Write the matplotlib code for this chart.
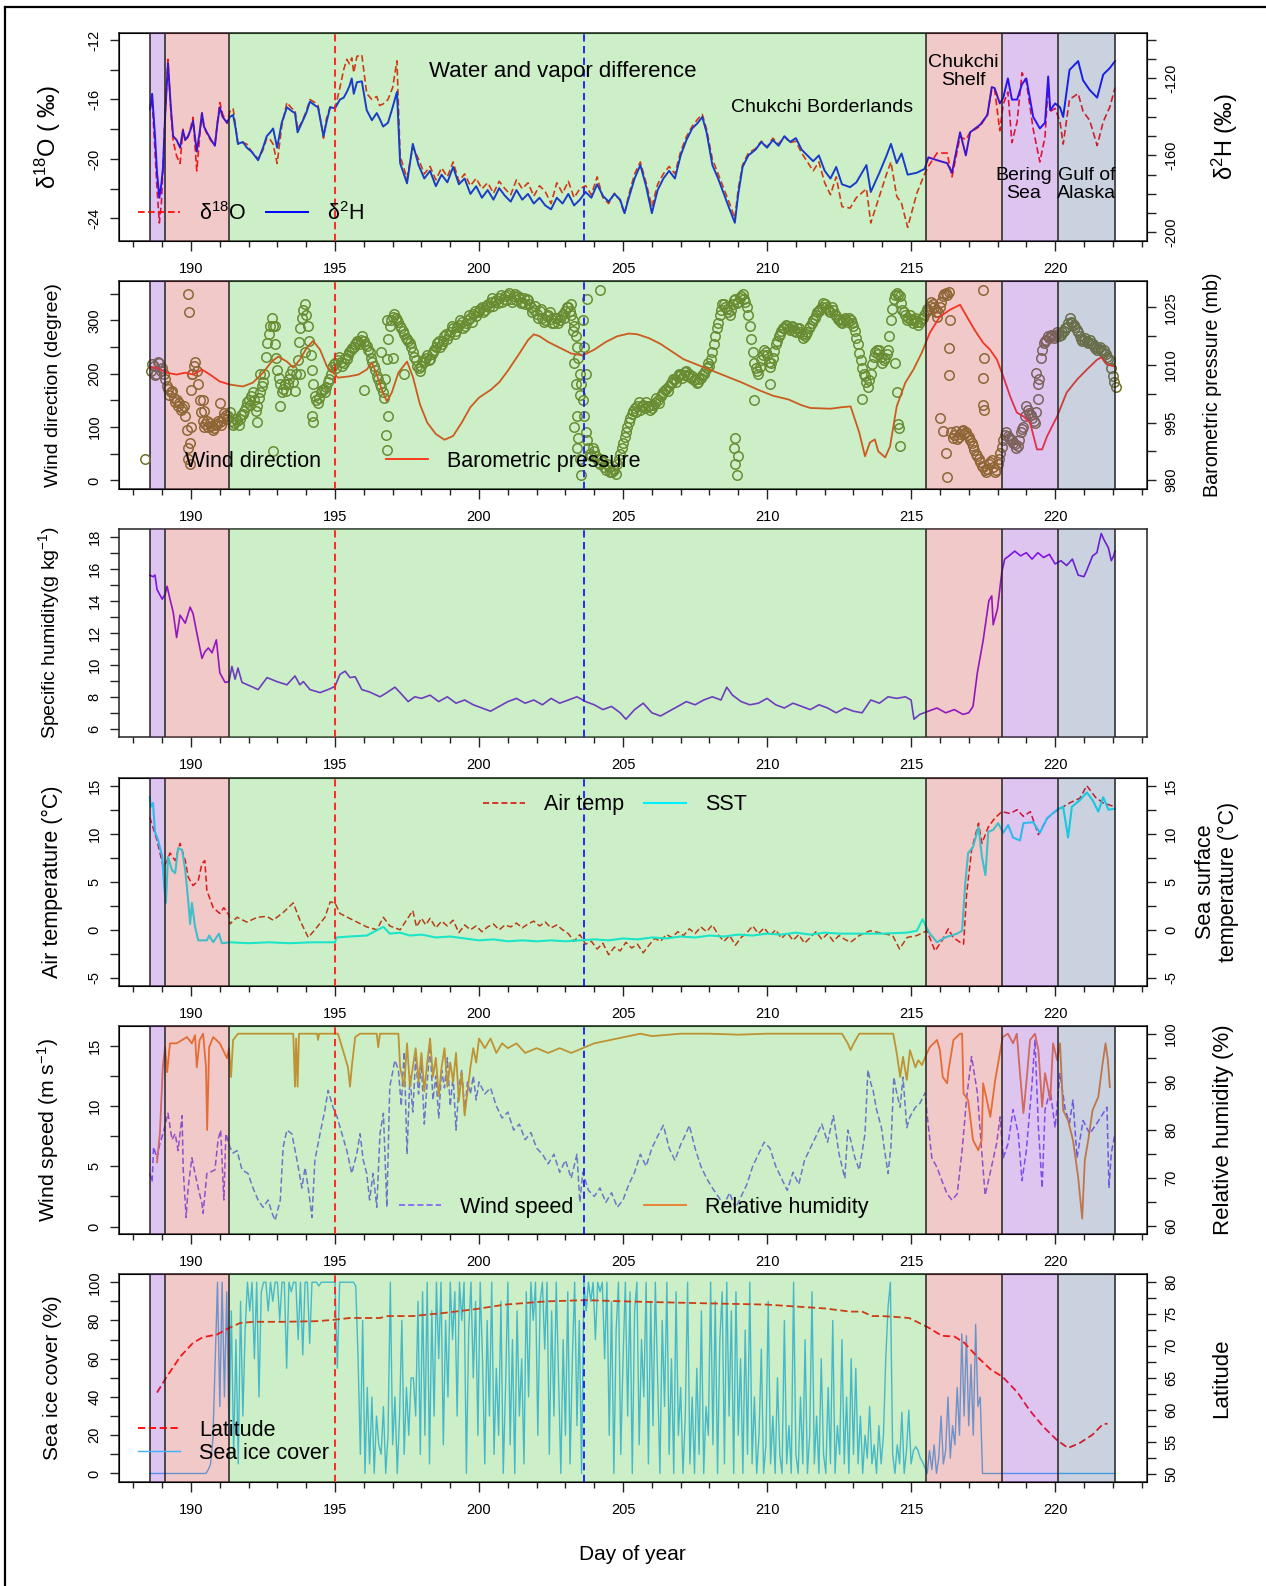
#!/usr/bin/env python3
"""
plot.py

Six stacked time-series panels along a ship track (day of year 188-222):
isotopes, wind direction / pressure, specific humidity, air / sea temperature,
wind speed / humidity and sea ice / latitude, with the regional shading drawn
over the data.
"""

import numpy as np
import matplotlib
matplotlib.use('Agg')
import matplotlib.pyplot as plt
from matplotlib.lines import Line2D

plt.rcParams['font.family'] = ['Liberation Sans', 'DejaVu Sans']
plt.rcParams['mathtext.fontset'] = 'custom'
plt.rcParams['mathtext.rm'] = 'Liberation Sans'
plt.rcParams['mathtext.it'] = 'Liberation Sans:italic'
plt.rcParams['axes.unicode_minus'] = False

# ---------------------------------------------------------------- regions
REGION_EDGES = [188.57, 189.09, 191.31, 215.52, 218.15, 220.11, 222.09]
REGION_COLORS = ['#9441cd', '#d44e4e', '#58cd48', '#d44e4e', '#9441cd', '#556c98']
RED_LINE_DAY = 195.0
BLUE_LINE_DAY = 203.66

X_LABELED = [190, 195, 200, 205, 210, 215, 220]
X_UNLABELED = list(range(188, 224))

# ---------------------------------------------------------------- panel 1: isotopes
T_ISO = [188.58, 188.65, 188.75, 188.82, 188.9, 188.97, 189.03, 189.1, 189.2, 189.3,
         189.38, 189.5, 189.62, 189.72, 189.8, 189.9, 190.0, 190.07, 190.2, 190.3,
         190.38, 190.45, 190.55, 190.7, 190.83, 190.92, 191.0, 191.1, 191.25, 191.35,
         191.46, 191.55, 191.63, 191.8, 191.94, 192.1, 192.33, 192.5, 192.63, 192.75,
         192.85, 192.99, 193.15, 193.33, 193.5, 193.61, 193.7, 193.85, 194.0, 194.13,
         194.3, 194.41, 194.6, 194.7, 194.83, 195.0, 195.17, 195.3, 195.41, 195.5,
         195.58, 195.65, 195.76, 195.93, 196.1, 196.28, 196.45, 196.55, 196.67, 196.84,
         197.0, 197.15, 197.26, 197.5, 197.7, 197.9, 198.1, 198.3, 198.5, 198.7,
         198.9, 199.1, 199.3, 199.5, 199.7, 199.9, 200.1, 200.3, 200.5, 200.7,
         200.9, 201.1, 201.3, 201.5, 201.7, 201.9, 202.1, 202.3, 202.5, 202.7,
         202.9, 203.1, 203.3, 203.5, 203.7, 203.9, 204.1, 204.3, 204.5, 204.7,
         204.9, 205.05, 205.2, 205.4, 205.6, 205.8, 206.0, 206.2, 206.4, 206.6,
         206.8, 207.0, 207.2, 207.4, 207.6, 207.75, 207.9, 208.1, 208.3, 208.5,
         208.7, 208.88, 209.0, 209.15, 209.35, 209.6, 209.8, 210.0, 210.2, 210.4,
         210.6, 210.8, 211.0, 211.2, 211.4, 211.6, 211.8, 212.0, 212.2, 212.4,
         212.6, 212.88, 213.1, 213.45, 213.6, 213.9, 214.15, 214.3, 214.5, 214.67,
         214.88, 215.2, 215.47, 215.6, 215.9, 216.25, 216.42, 216.7, 216.9, 217.05,
         217.4, 217.65, 217.8, 217.9, 218.08, 218.2, 218.36, 218.5, 218.68, 218.85,
         219.0, 219.24, 219.47, 219.65, 219.76, 219.83, 220.0, 220.17, 220.28, 220.5,
         220.8, 220.97, 221.2, 221.46, 221.67, 221.9, 222.08]
D18O = [-16.5, -16.0, -19.5, -22.0, -24.3, -23.0, -20.5, -17.0, -13.3, -16.8,
        -18.8, -19.8, -20.3, -18.0, -18.8, -18.5, -17.8, -17.2, -20.8, -18.5,
        -16.9, -17.8, -18.3, -18.8, -19.0, -17.5, -16.2, -17.0, -17.6, -16.8,
        -16.6, -17.8, -19.0, -18.9, -19.0, -19.5, -20.0, -19.4, -18.6, -18.7,
        -19.0, -20.3, -17.8, -16.2, -16.6, -16.7, -18.0, -17.5, -16.8, -16.0,
        -16.2, -16.4, -18.6, -17.3, -16.5, -16.6, -15.2, -14.0, -13.3, -13.6,
        -13.2, -14.2, -13.1, -13.0, -15.6, -16.0, -15.8, -16.4, -16.3, -16.0,
        -15.2, -13.4, -19.8, -21.3, -19.2, -20.0, -21.0, -20.5, -21.4, -20.6,
        -21.2, -20.2, -21.5, -21.0, -21.8, -21.3, -22.0, -21.6, -22.3, -21.5,
        -22.0, -22.4, -21.4, -22.0, -21.6, -22.5, -21.8, -22.2, -23.0, -21.6,
        -22.3, -21.5, -22.6, -22.0, -21.8, -22.4, -21.2, -22.6, -23.0, -22.3,
        -22.8, -23.7, -22.4, -21.0, -20.2, -21.6, -23.2, -21.7, -21.0, -20.5,
        -21.0, -19.5, -18.5, -17.8, -17.3, -17.0, -18.0, -20.0, -21.0, -22.0,
        -23.0, -24.0, -22.0, -20.4, -19.6, -19.3, -18.8, -19.2, -18.6, -19.0,
        -18.5, -18.9, -18.8, -19.6, -20.2, -20.8, -20.2, -21.6, -22.4, -21.2,
        -23.2, -23.3, -22.6, -22.0, -24.3, -22.5, -21.0, -20.2, -22.5, -23.0,
        -24.6, -22.3, -21.0, -20.5, -19.6, -19.6, -21.2, -18.5, -18.7, -18.2,
        -17.8, -17.0, -15.3, -15.3, -18.1, -16.3, -15.5, -18.9, -17.5, -14.2,
        -14.8, -18.0, -20.2, -18.5, -15.0, -16.8, -16.6, -17.5, -19.0, -16.0,
        -15.6, -16.8, -17.4, -19.1, -17.5, -16.5, -15.2]
D2H = [-136, -128, -150, -169, -182, -175, -166, -140, -112, -135,
       -150, -152, -156, -147, -152, -150, -146, -142, -158, -148,
       -138, -145, -148, -152, -155, -143, -135, -140, -143, -140,
       -139, -146, -154, -153, -156, -158, -162.5, -156, -150, -148,
       -146, -156, -143, -135, -137, -138, -148, -143, -138, -132,
       -134, -135, -150, -143, -135, -135.5, -131, -130, -127, -124,
       -120, -128, -122, -121.5, -136.5, -141.7, -138, -141, -145, -143,
       -135, -127, -164, -174.5, -154, -165, -172, -168, -176, -170,
       -174, -166, -175, -172, -180, -176, -182, -178, -183, -177,
       -181, -184, -178, -183, -180, -185, -182, -186, -188, -182,
       -185, -180, -186, -183, -179, -182, -175, -181, -184, -180,
       -183, -190, -182, -172, -165, -176, -190, -178, -172, -168,
       -172, -160, -152, -146, -143, -140, -148, -165, -172, -180,
       -188, -195, -180, -166, -160, -157, -153, -156, -152, -155,
       -150, -153, -151, -157, -160, -163, -160, -168, -172, -166,
       -175, -176.5, -174, -165, -179, -169, -160, -154, -164, -159,
       -170, -169, -167, -161, -162.5, -164, -169, -148, -160, -148,
       -144, -139, -124.5, -125, -133, -130, -120, -131, -131, -123,
       -120, -140, -146, -143, -119, -136.5, -133, -135, -140, -115.6,
       -111, -121, -126, -130, -118, -114.6, -111]

# ---------------------------------------------------------------- panel 2: wind direction, pressure
WD_START = 188.6
WD_STEP = 0.1
WIND_DIR = [205, 215, 200, 220, 210, 190, 172, 165, 155, 150,
            145, 135, 120, 40, 170, 215, 205, 150, 112, 105,
            100, 102, 98, 105, 110, 118, 122, 120, 112, 108,
            112, 115, 125, 138, 150, 158, 150, 140, 165, 185,
            232, 275, 305, 255, 208, 180, 172, 168, 190, 208,
            168, 225, 285, 320, 310, 262, 208, 158, 146, 165,
            172, 176, 190, 212, 220, 226, 222, 220, 228, 240,
            248, 256, 260, 264, 262, 252, 240, 222, 208, 190,
            176, 155, 228, 290, 307, 305, 298, 285, 275, 265,
            258, 240, 225, 210, 215, 222, 235, 228, 240, 250,
            262, 255, 270, 265, 278, 285, 280, 292, 298, 290,
            300, 305, 312, 308, 318, 325, 320, 330, 335, 328,
            338, 342, 335, 345, 348, 340, 345, 338, 342, 335,
            330, 338, 325, 320, 312, 318, 305, 300, 310, 302,
            296, 305, 300, 312, 318, 325, 310, 290, 250, 200,
            150, 90, 60, 45, 55, 40, 30, 35, 20, 25,
            15, 20, 30, 50, 70, 90, 110, 125, 135, 140,
            132, 142, 148, 140, 135, 145, 150, 158, 165, 172,
            178, 185, 190, 195, 200, 198, 205, 200, 195, 190,
            185, 192, 200, 210, 215, 240, 270, 295, 320, 330,
            322, 310, 330, 340, 335, 345, 340, 325, 290, 240,
            210, 200, 225, 245, 235, 212, 230, 255, 270, 280,
            285, 290, 282, 288, 278, 285, 275, 270, 278, 290,
            300, 310, 318, 325, 330, 322, 315, 320, 308, 300,
            295, 305, 298, 301, 290, 268, 239, 210, 195, 176,
            200, 232, 245, 245, 221, 230, 245, 300, 340, 352,
            345, 320, 310, 305, 301, 300, 298, 298, 305, 315,
            320, 335, 325, 307, 325, 345, 352, 354, 90, 85,
            77, 88, 95, 90, 82, 70, 58, 45, 34, 25,
            15, 30, 39, 15, 30, 52, 75, 90, 80, 75,
            68, 64, 90, 101, 139, 127, 118, 108, 152, 230,
            258, 264, 268, 273, 270, 275, 273, 280, 288, 305,
            295, 288, 278, 266, 264, 262, 264, 255, 249, 248,
            245, 244, 232, 226, 195, 175]
# second set of readings, half a step later (the band is many records thick)
WD2_START = 188.65
WIND_DIR_2 = [218, 198, 222, 205, 200, 178, 160, 168, 148, 140,
              132, 140, 95, 70, 200, 222, 180, 128, 100, 112,
              108, 95, 104, 112, 104, 126, 115, 128, 104, 116,
              104, 122, 130, 148, 142, 165, 130, 155, 178, 200,
              258, 290, 290, 230, 192, 165, 180, 180, 200, 185,
              200, 260, 305, 330, 290, 235, 180, 150, 155, 170,
              165, 185, 200, 218, 210, 232, 215, 230, 235, 245,
              250, 262, 255, 270, 255, 245, 230, 215, 195, 180,
              165, 190, 265, 300, 312, 300, 290, 280, 268, 262,
              250, 232, 215, 205, 225, 230, 225, 238, 245, 258,
              250, 262, 275, 272, 290, 275, 288, 300, 285, 295,
              310, 298, 318, 315, 322, 315, 328, 325, 342, 335,
              332, 348, 340, 338, 352, 335, 350, 345, 332, 342,
              340, 330, 315, 328, 305, 322, 298, 308, 315, 295,
              305, 295, 308, 305, 325, 318, 300, 270, 230, 180,
              120, 75, 50, 60, 45, 32, 40, 25, 30, 15,
              22, 12, 40, 60, 82, 100, 118, 130, 128, 148,
              140, 135, 140, 132, 142, 155, 145, 162, 170, 168,
              182, 190, 185, 200, 192, 204, 196, 192, 188, 182,
              190, 198, 205, 220, 228, 255, 285, 310, 330, 325,
              315, 320, 338, 332, 342, 350, 335, 310, 265, 220,
              205, 212, 235, 240, 222, 220, 242, 262, 275, 285,
              292, 285, 290, 280, 285, 278, 268, 275, 285, 295,
              305, 315, 322, 332, 325, 318, 325, 312, 302, 298,
              300, 300, 305, 295, 280, 255, 225, 200, 185, 188,
              218, 240, 238, 232, 226, 238, 270, 322, 348, 348,
              332, 315, 300, 310, 296, 305, 292, 302, 310, 322,
              328, 330, 315, 315, 335, 350, 348, 300, 80, 92,
              82, 92, 88, 85, 76, 64, 50, 40, 28, 20,
              22, 35, 25, 20, 40, 62, 85, 84, 78, 70,
              60, 75, 96, 120, 132, 122, 112, 128, 190, 245,
              262, 270, 272, 268, 278, 270, 278, 285, 295, 298,
              292, 282, 270, 262, 268, 258, 258, 252, 245, 250,
              240, 238, 228, 210, 185]
WD_OUT_T = [189.88, 189.9, 189.92, 189.95, 190.0, 190.05, 190.4, 190.45, 191.0, 192.3,
            192.4, 192.85, 192.9, 193.1, 193.8, 193.95, 194.2, 194.25, 196.0, 196.6,
            196.78, 196.8, 196.82, 196.85, 197.0, 197.4, 203.2, 203.25, 203.3, 203.3,
            203.35, 203.4, 203.4, 203.45, 203.5, 203.5, 203.55, 203.6, 203.65, 203.7,
            203.75, 204.2, 208.85, 208.88, 208.9, 208.95, 209.0, 209.55, 210.1, 213.3,
            214.45, 214.5, 214.55, 214.58, 214.62, 216.0, 216.1, 216.2, 216.25, 216.3,
            216.32, 217.48, 217.5, 217.5, 217.52, 217.52, 219.35, 219.4]
WD_OUT = [60, 350, 315, 30, 100, 200, 150, 130, 146, 110,
          200, 56, 290, 140, 200, 240, 120, 110, 170, 240,
          86, 58, 300, 120, 230, 200, 330, 280, 220, 100,
          180, 120, 60, 80, 40, 160, 10, 300, 250, 200,
          340, 357, 60, 80, 30, 10, 45, 150, 180, 152,
          221, 165, 105, 99, 64, 118, 92, 52, 6, 249,
          198, 142, 357, 193, 230, 133, 202, 180]

T_PRES = [188.57, 188.8, 189.16, 189.5, 189.8, 190.07, 190.38, 190.66, 191.0, 191.35,
          191.8, 192.15, 192.5, 192.8, 193.03, 193.33, 193.55, 193.78, 194.02, 194.24,
          194.48, 194.72, 194.93, 195.1, 195.46, 195.81, 196.1, 196.28, 196.45, 196.62,
          196.8, 196.97, 197.2, 197.5, 197.7, 197.95, 198.2, 198.5, 198.8, 199.1,
          199.4, 199.7, 200.0, 200.4, 200.7, 201.0, 201.4, 201.7, 201.9, 202.1,
          202.4, 202.8, 203.2, 203.6, 204.0, 204.4, 204.8, 205.2, 205.5, 205.9,
          206.3, 206.7, 207.1, 207.6, 208.1, 208.6, 209.1, 209.7, 210.2, 210.75,
          211.2, 211.5, 212.2, 212.6, 212.9, 213.2, 213.4, 213.57, 213.74, 213.86,
          214.1, 214.27, 214.5, 214.8, 215.08, 215.37, 215.65, 216.0, 216.35, 216.7,
          216.86, 217.2, 217.5, 217.74, 217.98, 218.2, 218.44, 218.67, 218.9, 219.13,
          219.37, 219.55, 219.72, 220.07, 220.4, 220.76, 221.1, 221.46, 221.6, 221.67,
          221.8, 222.08]
PRES = [1009.3, 1009.3, 1008, 1007.5, 1008, 1007.5, 1008.8, 1007.5, 1005.7, 1004.9,
        1004.4, 1005.4, 1008, 1010.9, 1012.2, 1010.9, 1009.3, 1011.4, 1014.5, 1016.3,
        1014, 1009.6, 1008, 1006.7, 1007, 1007.5, 1008.8, 1010.6, 1007.5, 1003.6,
        1000.5, 1002.8, 1008, 1010.9, 1007, 999.7, 995, 992, 990.5, 991.5,
        995, 999, 1001.5, 1003.5, 1005.5, 1008.5, 1013, 1016.5, 1018, 1017.5,
        1016, 1014.5, 1013, 1012.5, 1014, 1016, 1017.5, 1018.2, 1018, 1017,
        1015.5, 1013.5, 1011.5, 1010, 1008.5, 1007, 1005.5, 1003.5, 1002, 1001,
        999.5, 998.8, 998.6, 999, 999.2, 992.4, 986.2, 989.8, 990.6, 987.5,
        985.9, 988.8, 999.2, 1005.4, 1008.8, 1013.2, 1018.4, 1022.6, 1024.4, 1025.7,
        1023.6, 1019.2, 1015.8, 1014, 1011.4, 1007, 1001.8, 997.6, 996.6, 995,
        988, 988, 991.4, 996.6, 1002.8, 1006.2, 1008.8, 1011.4, 1012, 1011.4,
        1010.1, 1009.6]

# ---------------------------------------------------------------- panel 3: specific humidity
T_Q = [188.57, 188.68, 188.75, 188.82, 189.0, 189.1, 189.17, 189.27, 189.38, 189.5,
       189.62, 189.8, 189.97, 190.07, 190.2, 190.38, 190.48, 190.6, 190.73, 190.88,
       191.0, 191.18, 191.32, 191.42, 191.53, 191.63, 191.77, 192.15, 192.33, 192.64,
       192.98, 193.33, 193.61, 193.78, 193.9, 194.13, 194.48, 194.76, 195.0, 195.17,
       195.35, 195.52, 195.7, 195.93, 196.2, 196.56, 196.8, 197.08, 197.26, 197.54,
       197.77, 198.0, 198.3, 198.6, 198.9, 199.2, 199.5, 199.8, 200.1, 200.4,
       200.7, 201.0, 201.3, 201.6, 201.9, 202.2, 202.5, 202.8, 203.1, 203.4,
       203.7, 204.0, 204.3, 204.6, 204.9, 205.1, 205.4, 205.7, 206.0, 206.3,
       206.6, 206.9, 207.2, 207.5, 207.8, 208.1, 208.4, 208.6, 208.8, 209.1,
       209.4, 209.7, 210.0, 210.3, 210.6, 210.9, 211.2, 211.5, 211.8, 212.1,
       212.4, 212.7, 213.0, 213.3, 213.6, 213.9, 214.2, 214.5, 214.8, 215.0,
       215.1, 215.3, 215.6, 215.9, 216.2, 216.5, 216.8, 217.0, 217.15, 217.3,
       217.5, 217.7, 217.8, 217.85, 218.0, 218.15, 218.25, 218.4, 218.6, 218.8,
       219.0, 219.2, 219.4, 219.6, 219.8, 220.0, 220.2, 220.4, 220.6, 220.8,
       221.0, 221.1, 221.3, 221.45, 221.6, 221.7, 221.85, 221.95, 222.03, 222.08]
SPEC_HUM = [15.6, 15.5, 15.6, 14.7, 14.1, 14.4, 14.9, 14.1, 13.3, 11.7,
            13.1, 12.6, 13.6, 13.2, 12.0, 10.4, 10.8, 11.05, 10.75, 11.56,
            9.5, 8.9, 8.95, 9.9, 9.1, 9.8, 8.9, 8.6, 8.45, 9.2,
            8.95, 8.75, 9.3, 8.75, 8.95, 8.45, 8.26, 8.45, 8.65, 9.4,
            9.6, 9.2, 9.25, 8.45, 8.3, 8.0, 8.26, 8.6, 8.26, 7.7,
            8.0, 7.9, 8.1, 7.7, 8.0, 7.6, 7.8, 7.5, 7.3, 7.1,
            7.4, 7.7, 7.9, 7.6, 7.8, 7.5, 7.9, 7.6, 7.8, 8.0,
            7.7, 7.5, 7.2, 7.4, 7.0, 6.6, 7.2, 7.6, 7.0, 6.8,
            7.1, 7.4, 7.7, 7.5, 7.8, 8.0, 7.8, 8.6, 8.1, 7.7,
            7.5, 7.6, 7.9, 7.5, 7.3, 7.6, 7.4, 7.2, 7.5, 7.3,
            7.0, 7.3, 7.1, 7.0, 7.8, 7.6, 8.0, 7.9, 8.0, 7.8,
            6.6, 6.9, 7.1, 7.3, 7.0, 7.2, 6.9, 7.0, 7.4, 9.5,
            11.5, 14.0, 14.3, 12.5, 13.5, 15.8, 16.6, 16.8, 17.1, 16.8,
            17.0, 16.6, 17.0, 16.7, 16.9, 16.3, 16.5, 16.2, 16.6, 15.6,
            15.5, 15.9, 16.8, 17.0, 18.2, 17.8, 17.3, 16.5, 16.8, 17.1]

# ---------------------------------------------------------------- panel 4: air temperature, SST
T_AIR = [188.57, 188.82, 189.04, 189.17, 189.27, 189.45, 189.62, 189.8, 189.9, 190.07,
         190.25, 190.38, 190.48, 190.55, 190.77, 191.0, 191.14, 191.32, 191.35, 191.6,
         191.94, 192.3, 192.63, 192.85, 193.2, 193.55, 193.78, 194.07, 194.3, 194.65,
         194.83, 195.0, 195.17, 195.63, 196.1, 196.45, 196.68, 196.9, 197.26, 197.7,
         197.83, 198.0, 198.15, 198.3, 198.5, 198.7, 198.9, 199.1, 199.3, 199.5,
         199.7, 199.9, 200.1, 200.3, 200.5, 200.7, 200.9, 201.1, 201.3, 201.5,
         201.7, 201.9, 202.1, 202.3, 202.5, 202.7, 202.9, 203.1, 203.3, 203.5,
         203.7, 203.9, 204.1, 204.3, 204.5, 204.7, 204.9, 205.1, 205.3, 205.5,
         205.7, 205.9, 206.1, 206.3, 206.5, 206.7, 206.9, 207.1, 207.3, 207.5,
         207.7, 207.9, 208.1, 208.3, 208.5, 208.7, 208.9, 209.1, 209.3, 209.5,
         209.7, 209.9, 210.1, 210.3, 210.5, 210.7, 210.9, 211.1, 211.3, 211.5,
         211.7, 211.9, 212.1, 212.3, 212.5, 212.7, 212.9, 213.2, 213.57, 213.9,
         214.36, 214.6, 214.86, 215.2, 215.55, 215.83, 216.08, 216.29, 216.46, 216.7,
         216.82, 216.93, 217.1, 217.34, 217.46, 217.68, 217.9, 218.15, 218.44, 218.68,
         218.9, 219.14, 219.42, 219.72, 220.0, 220.28, 220.5, 220.86, 221.1, 221.4,
         221.67, 222.08]
AIR_TEMP = [11.7, 9.3, 6.5, 7.2, 8.0, 7.2, 9.0, 7.2, 5.5, 4.6,
            5.1, 6.9, 7.2, 4.1, 2.3, 1.7, 2.3, 1.5, 0.6, 1.3,
            0.8, 1.3, 1.4, 1.0, 1.8, 2.8, 1.0, -0.8, 0.0, 1.3,
            2.9, 2.8, 1.7, 1.0, 0.3, 0.0, 1.3, 0.4, 0.0, 2.0,
            0.3, 1.2, 0.5, 1.2, 0.2, 0.9, 0.4, 1.0, -0.3, 0.5,
            0.0, 0.4, -0.2, 0.3, 0.6, 0.0, 0.5, 0.3, 0.7, 0.2,
            0.6, 0.9, 0.4, 0.8, 0.2, 0.5, 0.0, -0.4, -1.2, -0.5,
            -1.5, -1.2, -2.0, -1.4, -2.6, -1.8, -2.2, -1.3, -1.9, -1.5,
            -2.4, -1.6, -0.9, -1.2, -0.5, -0.8, -0.2, -0.6, 0.1, -0.4,
            0.3, -0.2, 0.5, -0.5, -1.2, -0.6, -1.6, -0.8, -0.3, 0.4,
            -0.4, 0.2, -0.6, 0.0, -0.9, -0.3, -1.1, -0.5, -1.4, -0.8,
            -0.2, -1.0, -0.4, -1.2, -0.6, -1.0, -1.3, -0.6, -0.1, -0.3,
            -0.6, -2.0, -0.8, -0.6, -0.1, -2.2, -1.1, 0.1, -0.8, -1.3,
            -1.5, 3.8, 8.3, 11.1, 9.0, 10.7, 11.6, 12.3, 12.1, 12.5,
            11.8, 12.3, 9.9, 11.6, 12.3, 12.8, 13.2, 13.7, 15.0, 13.8,
            13.2, 12.8]

T_SST = [188.57, 188.6, 188.68, 188.75, 188.86, 189.0, 189.07, 189.13, 189.2, 189.34,
         189.45, 189.55, 189.69, 189.8, 189.9, 189.97, 190.03, 190.14, 190.25, 190.55,
         190.63, 190.77, 190.97, 191.07, 191.35, 192.0, 192.7, 193.4, 194.2, 195.0,
         195.05, 195.5, 196.1, 196.68, 196.9, 197.26, 197.6, 198.0, 198.5, 199.0,
         199.5, 200.0, 200.5, 201.0, 201.5, 202.0, 202.5, 203.0, 203.5, 204.0,
         204.5, 205.0, 205.5, 206.0, 206.5, 207.0, 207.5, 208.0, 208.5, 209.0,
         209.5, 210.0, 210.5, 211.0, 211.5, 212.0, 212.5, 212.9, 214.0, 214.85,
         215.2, 215.4, 215.52, 215.65, 215.9, 216.18, 216.6, 216.77, 216.88, 216.98,
         217.15, 217.34, 217.46, 217.58, 217.68, 217.85, 218.02, 218.2, 218.37, 218.54,
         218.78, 218.9, 219.24, 219.47, 219.72, 220.07, 220.28, 220.45, 220.58, 220.86,
         221.1, 221.3, 221.5, 221.67, 221.85, 222.08]
SST = [13.8, 12.8, 13.2, 10.2, 9.3, 7.6, 4.5, 2.8, 7.6, 6.2,
       5.9, 8.5, 8.3, 6.2, 3.1, 0.6, 2.8, 0.3, -1.1, -1.1,
       -0.6, -1.3, -0.4, -1.4, -1.3, -1.4, -1.3, -1.4, -1.3, -1.3,
       -0.8, -0.7, -0.6, 0.3, -0.4, -0.3, -0.6, -0.5, -0.8, -0.7,
       -0.9, -1.1, -1.0, -1.2, -1.1, -1.2, -1.1, -1.2, -1.1, -1.0,
       -1.1, -0.9, -1.0, -0.8, -0.9, -0.7, -0.8, -0.6, -0.7, -0.5,
       -0.6, -0.4, -0.5, -0.3, -0.5, -0.3, -0.4, -0.4, -0.4, -0.3,
       -0.1, 1.1, 0.3, -0.4, -1.3, -0.8, -0.4, -0.1, 4.8, 8.0,
       8.6, 10.7, 7.6, 5.7, 10.2, 10.4, 11.1, 10.1, 10.9, 9.6,
       9.3, 11.1, 11.2, 10.1, 11.6, 12.5, 12.8, 9.6, 12.8, 13.5,
       14.3, 13.5, 12.3, 13.8, 12.5, 12.6]

# ---------------------------------------------------------------- panel 5: wind speed, relative humidity
T_WS = [188.57, 188.65, 188.7, 188.82, 188.92, 189.04, 189.2, 189.34, 189.45, 189.55,
        189.69, 189.73, 189.83, 189.9, 190.03, 190.14, 190.25, 190.38, 190.42, 190.55,
        190.66, 190.83, 190.94, 191.03, 191.14, 191.21, 191.35, 191.46, 191.6, 191.77,
        191.98, 192.15, 192.33, 192.5, 192.68, 192.8, 192.92, 193.1, 193.2, 193.33,
        193.5, 193.68, 193.85, 193.96, 194.07, 194.2, 194.3, 194.48, 194.65, 194.76,
        194.93, 195.07, 195.24, 195.41, 195.58, 195.76, 195.87, 195.98, 196.1, 196.2,
        196.32, 196.45, 196.56, 196.68, 196.8, 196.9, 197.08, 197.2, 197.3, 197.4,
        197.5, 197.6, 197.7, 197.8, 197.9, 198.0, 198.1, 198.2, 198.3, 198.4,
        198.5, 198.6, 198.7, 198.8, 198.9, 199.0, 199.1, 199.2, 199.3, 199.4,
        199.5, 199.6, 199.7, 199.8, 199.9, 200.0, 200.2, 200.4, 200.6, 200.8,
        201.0, 201.2, 201.4, 201.6, 201.8, 202.0, 202.2, 202.4, 202.6, 202.8,
        203.0, 203.2, 203.4, 203.5, 203.6, 203.8, 204.0, 204.2, 204.4, 204.6,
        204.8, 205.0, 205.2, 205.4, 205.6, 205.8, 206.0, 206.2, 206.4, 206.6,
        206.8, 207.0, 207.2, 207.3, 207.5, 207.7, 207.9, 208.1, 208.3, 208.5,
        208.7, 208.9, 209.1, 209.3, 209.5, 209.7, 209.9, 210.1, 210.3, 210.5,
        210.7, 210.9, 211.1, 211.3, 211.5, 211.7, 211.9, 212.1, 212.3, 212.5,
        212.7, 212.8, 212.9, 213.05, 213.2, 213.4, 213.5, 213.6, 213.68, 213.8,
        213.97, 214.08, 214.2, 214.3, 214.4, 214.5, 214.62, 214.72, 214.85, 214.96,
        215.15, 215.3, 215.49, 215.55, 215.72, 215.9, 216.07, 216.25, 216.42, 216.6,
        216.77, 216.93, 217.1, 217.3, 217.45, 217.57, 217.74, 217.97, 218.09, 218.2,
        218.37, 218.54, 218.72, 218.85, 219.0, 219.2, 219.3, 219.42, 219.55, 219.65,
        219.83, 220.0, 220.17, 220.35, 220.5, 220.62, 220.76, 220.97, 221.2, 221.46,
        221.67, 221.8, 221.87, 221.95, 222.08]
WIND_SPEED = [4.4, 3.7, 6.6, 5.7, 6.9, 7.8, 9.4, 7.2, 7.7, 6.3,
              9.2, 4.7, 0.75, 3.2, 5.7, 4.4, 3.2, 1.9, 1.1, 4.4,
              4.5, 4.7, 7.2, 8.0, 2.2, 7.7, 6.6, 6.1, 6.3, 4.7,
              4.4, 3.2, 2.2, 1.6, 2.2, 1.2, 0.5, 2.2, 6.6, 8.0,
              7.7, 5.5, 3.2, 4.9, 3.2, 0.75, 5.5, 7.7, 9.7, 11.3,
              9.9, 9.1, 7.7, 6.3, 4.4, 6.1, 7.7, 5.5, 4.4, 2.2,
              4.4, 1.6, 7.7, 9.4, 1.6, 11.6, 13.8, 13.0, 10.0, 14.5,
              6.0, 12.5, 9.5, 14.0, 11.0, 13.5, 8.5, 12.0, 15.0, 10.5,
              12.5, 9.0, 13.0, 11.5, 14.0, 10.0, 12.5, 8.0, 11.5, 13.0,
              9.5, 12.0, 11.0, 12.5, 10.5, 12.0, 11.0, 11.5, 10.0, 9.0,
              9.5, 8.0, 8.5, 7.2, 7.8, 6.5, 6.0, 5.2, 6.0, 4.5,
              5.5, 4.0, 6.0, 2.0, 4.5, 3.0, 2.5, 3.2, 2.0, 2.8,
              1.6, 2.2, 3.5, 4.5, 6.0, 5.0, 6.5, 7.5, 8.4, 6.5,
              5.5, 6.8, 7.8, 8.4, 6.5, 5.0, 4.0, 3.2, 2.5, 1.8,
              2.8, 1.5, 2.5, 3.5, 5.0, 6.0, 7.0, 6.5, 5.0, 4.0,
              3.0, 4.5, 3.5, 5.5, 6.5, 7.5, 8.5, 7.0, 9.2, 6.0,
              4.0, 8.0, 7.2, 5.7, 4.7, 7.7, 13.0, 11.9, 11.3, 9.7,
              8.2, 6.3, 4.4, 6.6, 12.4, 11.1, 9.9, 12.4, 8.2, 9.1,
              9.9, 10.2, 11.1, 9.4, 5.7, 4.9, 3.8, 2.7, 2.2, 2.7,
              6.3, 10.7, 14.1, 11.1, 6.3, 2.6, 4.4, 6.9, 9.1, 5.7,
              6.9, 9.7, 7.7, 3.8, 6.3, 11.9, 15.5, 8.2, 3.2, 9.7,
              11.3, 8.2, 12.7, 9.7, 8.6, 10.5, 5.7, 8.8, 7.7, 8.6,
              9.4, 9.9, 3.2, 6.1, 7.7]

T_RH = [188.82, 188.92, 189.02, 189.1, 189.17, 189.27, 189.5, 189.69, 189.86, 190.03,
        190.14, 190.2, 190.3, 190.42, 190.52, 190.56, 190.63, 190.77, 191.0, 191.25,
        191.32, 191.39, 191.46, 191.63, 193.55, 193.61, 193.65, 193.7, 193.75, 194.38,
        194.41, 194.45, 195.1, 195.17, 195.45, 195.52, 195.58, 195.7, 195.87, 196.45,
        196.5, 196.56, 197.2, 197.26, 197.4, 197.5, 197.6, 197.8, 197.9, 198.0,
        198.1, 198.2, 198.3, 198.4, 198.5, 198.6, 198.7, 198.8, 198.9, 199.0,
        199.1, 199.2, 199.3, 199.4, 199.5, 199.6, 199.7, 199.8, 199.9, 200.0,
        200.2, 200.4, 200.6, 200.8, 201.0, 201.3, 201.6, 202.0, 202.4, 202.8,
        203.2, 203.6, 204.0, 204.4, 204.8, 205.2, 205.6, 206.0, 207.0, 208.0,
        209.0, 210.0, 211.0, 212.0, 212.6, 212.8, 212.9, 213.0, 213.2, 214.38,
        214.5, 214.62, 214.72, 214.85, 214.96, 215.15, 215.25, 215.38, 215.52, 215.65,
        215.9, 216.0, 216.1, 216.25, 216.3, 216.47, 216.7, 216.77, 216.82, 216.98,
        217.15, 217.33, 217.45, 217.5, 217.63, 217.75, 217.92, 218.1, 218.18, 218.36,
        218.54, 218.67, 218.78, 218.9, 219.0, 219.13, 219.3, 219.42, 219.55, 219.65,
        219.83, 219.93, 220.07, 220.17, 220.28, 220.45, 220.62, 220.8, 220.94, 221.03,
        221.15, 221.3, 221.5, 221.63, 221.75, 221.83, 221.9]
REL_HUM = [73.3, 79.3, 93, 97.2, 92, 98, 98, 98.7, 99.3, 98,
           99.7, 93, 98.7, 100, 93, 80, 97.2, 99.3, 98, 94.9,
           97, 91, 98.7, 100, 100, 89, 99, 89, 100, 100,
           98.7, 100, 100, 98.7, 93, 89, 93, 99.3, 100, 100,
           97.2, 100, 100, 93, 89, 98, 89, 97, 90, 96,
           88, 94, 99, 91, 95, 87, 93, 97, 89, 94,
           90, 96, 86, 92, 83, 88, 93, 97, 94, 99,
           97, 99, 96, 98, 97, 98, 96, 97, 96, 97,
           96, 97, 98, 98.5, 99, 99.5, 100, 99.5, 100, 100,
           99.8, 100, 100, 100, 100, 98, 96.6, 97.9, 100, 100,
           96, 91, 95.2, 90.4, 96.6, 93, 94.5, 93.5, 95.6, 97.2,
           98.7, 96.6, 91, 89.7, 92.4, 98.7, 100, 100, 87.6, 86.2,
           77.9, 75.8, 77.9, 89.7, 86.2, 82.7, 90.4, 96.6, 99.3, 100,
           98, 100, 91.8, 83.5, 89.7, 98.7, 100, 96.6, 84.8, 91.8,
           86.2, 98, 94.5, 98, 84.1, 82, 77.9, 70.2, 61.6, 73.7,
           77.9, 84.1, 86.9, 93, 98, 94.5, 88.9]

# ---------------------------------------------------------------- panel 6: sea ice, latitude
ICE_START = 190.6
ICE_STEP = 0.08
SEA_ICE = [2, 5, 18, 60, 100, 35, 100, 40, 95, 20, 85, 10, 70, 5, 90, 30, 75, 100, 85, 100, 60, 100, 40, 95, 100,
           100, 85, 100, 90, 100, 100, 80, 100, 100, 55, 100, 95, 100, 100, 70, 100, 62, 100, 100, 68, 100, 100, 100, 98, 100,
           100, 100, 100, 100, 100, 100, 55, 100, 100, 100, 100, 100, 100, 100, 98, 60, 10, 80, 0, 45, 5, 40, 0, 30, 15,
           10, 35, 0, 20, 100, 15, 40, 0, 30, 80, 10, 45, 20, 50, 50, 30, 90, 10, 95, 20, 100, 5, 85, 30, 100,
           60, 100, 15, 80, 40, 100, 70, 95, 30, 100, 80, 100, 0, 75, 100, 50, 90, 20, 100, 60, 5, 80, 30, 100, 10,
           55, 20, 90, 0, 45, 100, 15, 70, 0, 85, 30, 60, 5, 95, 40, 100, 80, 100, 20, 90, 100, 65, 100, 10, 85,
           30, 100, 50, 0, 70, 20, 95, 5, 60, 100, 25, 80, 0, 100, 85, 100, 90, 100, 70, 100, 95, 100, 60, 100, 20,
           90, 0, 75, 100, 10, 60, 100, 30, 95, 0, 85, 100, 15, 70, 40, 100, 5, 90, 25, 100, 50, 0, 80, 35, 100,
           10, 60, 0, 95, 20, 45, 0, 30, 100, 5, 40, 0, 55, 10, 85, 0, 35, 20, 100, 15, 90, 0, 70, 95, 5,
           100, 30, 85, 0, 95, 20, 60, 0, 75, 10, 100, 5, 40, 0, 20, 65, 0, 15, 90, 5, 30, 0, 50, 10, 0,
           80, 5, 25, 0, 100, 10, 0, 40, 5, 70, 0, 20, 95, 5, 30, 0, 60, 10, 0, 45, 5, 80, 0, 25, 10,
           70, 5, 40, 0, 60, 10, 55, 5, 30, 0, 20, 8, 35, 5, 15, 0, 25, 5, 20, 60, 87, 100, 10, 0, 15,
           5, 32, 0, 12, 33, 5, 12, 14, 12, 8, 6, 3, 0, 12, 2, 15, 0, 8, 30, 5, 12, 40, 8, 25, 15,
           45, 20, 73, 30, 72, 25, 57, 20, 78, 35, 40, 0]
ICE_PRE_T = [188.57, 190.52]
ICE_PRE = [0, 0]
ICE_POST_T = [217.56, 222.08]
ICE_POST = [0, 0]

T_LAT = [188.82, 189.16, 189.62, 190.07, 190.42, 190.9, 191.35, 191.7, 192.15, 193.2,
         194.36, 194.93, 195.52, 196.56, 196.84, 197.7, 198.8, 199.9, 200.9, 202.3,
         203.7, 205.1, 207.9, 210.0, 212.0, 212.88, 213.3, 213.65, 214.0, 214.35,
         214.93, 215.2, 215.6, 216.07, 216.5, 216.85, 217.3, 217.77, 218.17, 218.7,
         219.1, 219.6, 220.05, 220.45, 220.86, 221.3, 221.67, 221.82]
LATITUDE = [62.7, 65.2, 68.3, 70.5, 71.4, 71.8, 72.9, 73.6, 73.8, 73.8,
            73.9, 74.1, 74.4, 74.4, 74.7, 74.7, 75.2, 75.8, 76.5, 77.0,
            77.2, 77.0, 76.7, 76.5, 75.9, 75.4, 75.4, 74.7, 74.7, 74.6,
            74.4, 73.8, 72.9, 71.6, 71.5, 70.5, 68.3, 66.3, 65.2, 62.7,
            60.0, 57.3, 55.3, 54.0, 54.8, 56.1, 57.8, 57.8]

# ---------------------------------------------------------------- layout (figure pixels)
FIG_W, FIG_H = 1266, 1586
AX_LEFT, AX_WIDTH = 119, 1028
PANEL_TOPS = [33, 281, 529, 778, 1026, 1274]
PANEL_H = 207.5
XMIN, XMAX = 187.5, 223.19

TICK_FS = 10.5
LEG_FS = 15.5


def regular_times(start, step, n):
    """Sampling times of a regularly sampled series."""
    return np.round(start + step * np.arange(n), 3)


def make_axes(fig, top):
    ax = fig.add_axes([AX_LEFT / FIG_W, 1 - (top + PANEL_H) / FIG_H,
                       AX_WIDTH / FIG_W, PANEL_H / FIG_H])
    ax.set_xlim(XMIN, XMAX)
    ax.set_xticks(X_LABELED)
    ax.set_xticklabels([str(d) for d in X_LABELED], fontsize=TICK_FS)
    ax.set_xticks(X_UNLABELED, minor=True)
    ax.tick_params(axis='x', which='major', length=7.5, width=1.0, pad=8, color='#222222')
    ax.tick_params(axis='x', which='minor', length=4.5, width=1.0, color='#222222')
    for sp in ax.spines.values():
        sp.set_color('#222222')
        sp.set_linewidth(1.1)
    return ax


def setup_y(ax, lim, labeled, unlabeled):
    ax.set_ylim(*lim)
    ax.set_yticks(labeled)
    ax.set_yticklabels(['%g' % v for v in labeled], rotation=90, va='center', fontsize=TICK_FS)
    ax.set_yticks(unlabeled, minor=True)
    ax.tick_params(axis='y', which='both', length=6.5, width=1.0, pad=6, color='#222222')


def set_label(ax, text, xfrac, size, **kw):
    ax.set_ylabel(text, fontsize=size, va='center', ha='center', **kw)
    ax.yaxis.set_label_coords(xfrac, 0.5)


def decorate(ax):
    """Regional shading, boundaries and the two reference days, drawn over the data."""
    for i, col in enumerate(REGION_COLORS):
        ax.axvspan(REGION_EDGES[i], REGION_EDGES[i + 1], color=col, alpha=0.3, lw=0, zorder=3)
    for x in REGION_EDGES:
        ax.axvline(x, color='#222222', lw=1.1, zorder=4)
    ax.axvline(RED_LINE_DAY, color='#ff1a1a', lw=1.3, ls=(0, (4, 2.5)), zorder=4)
    ax.axvline(BLUE_LINE_DAY, color='#1a1aff', lw=1.3, ls=(0, (4, 2.5)), zorder=4)


def add_legend(ax, handles, anchor, ncol, colsp):
    leg = ax.legend(handles=handles, loc='center left', bbox_to_anchor=anchor,
                    ncol=ncol, frameon=False, fontsize=LEG_FS, borderpad=0,
                    borderaxespad=0, handlelength=1.95, handletextpad=0.88,
                    columnspacing=colsp, labelspacing=0.1, numpoints=1)
    leg.set_zorder(6)
    return leg


def main():
    fig = plt.figure(figsize=(FIG_W / 100, FIG_H / 100), dpi=100)
    axes = [make_axes(fig, top) for top in PANEL_TOPS]
    dash = (0, (4, 2))

    # ---- panel 1
    ax = axes[0]
    axr = ax.twinx()
    l1, = ax.plot(T_ISO, D18O, color='#ff0000', lw=1.2, ls=dash, label='δ$^{18}$O')
    l2, = axr.plot(T_ISO, D2H, color='#0000ff', lw=1.4, label='δ$^{2}$H')
    setup_y(ax, (-25.48, -11.53), [-24, -20, -16, -12], list(range(-24, -11, 2)))
    setup_y(axr, (-204.2, -96.4), [-200, -160, -120], list(range(-200, -99, 10)))
    set_label(ax, 'δ$^{18}$O ( ‰)', -0.069, 17)
    set_label(axr, 'δ$^{2}$H (‰)', 1.076, 17, rotation=90)
    decorate(axr)
    add_legend(axr, [l1, l2], (0.0185, 0.13), 2, 0.93)
    tr = axr.get_xaxis_transform()
    axr.text(202.9, 0.816, 'Water and vapor difference', transform=tr, fontsize=16,
             ha='center', va='center', zorder=6)
    axr.text(211.9, 0.643, 'Chukchi Borderlands', transform=tr, fontsize=14,
             ha='center', va='center', zorder=6)
    axr.text(216.8, 0.816, 'Chukchi\nShelf', transform=tr, fontsize=14, ha='center',
             va='center', linespacing=1.1, zorder=6)
    axr.text(218.92, 0.27, 'Bering\nSea', transform=tr, fontsize=14, ha='center',
             va='center', linespacing=1.1, zorder=6)
    axr.text(221.1, 0.27, 'Gulf of\nAlaska', transform=tr, fontsize=14, ha='center',
             va='center', linespacing=1.1, zorder=6)

    # ---- panel 2
    ax = axes[1]
    axr = ax.twinx()
    wd_t = regular_times(WD_START, WD_STEP, len(WIND_DIR))
    wd2_t = regular_times(WD2_START, WD_STEP, len(WIND_DIR_2))
    pt_style = dict(ls='none', marker='o', ms=6.8, mfc='none', mec='#717029', mew=1.1)
    p1, = ax.plot(wd_t, WIND_DIR, label='Wind direction', **pt_style)
    ax.plot(wd2_t, WIND_DIR_2, **pt_style)
    ax.plot(WD_OUT_T, WD_OUT, **pt_style)
    p2, = axr.plot(T_PRES, PRES, color='#ff2a10', lw=1.3, label='Barometric pressure')
    setup_y(ax, (-15, 374), [0, 100, 200, 300], list(range(0, 351, 50)))
    setup_y(axr, (977.8, 1031.9), [980, 995, 1010, 1025], list(np.arange(980, 1026, 7.5)))
    set_label(ax, 'Wind direction (degree)', -0.064, 14)
    set_label(axr, 'Barometric pressure (mb)', 1.064, 14.2, rotation=90)
    decorate(axr)
    add_legend(axr, [p1, p2], (0.005, 0.13), 2, 3.0)

    # ---- panel 3
    ax = axes[2]
    ax.plot(T_Q, SPEC_HUM, color='#7800f0', lw=1.2)
    setup_y(ax, (5.52, 18.48), list(range(6, 19, 2)), list(range(6, 19)))
    set_label(ax, 'Specific humidity(g kg$^{-1}$)', -0.068, 14)
    decorate(ax)

    # ---- panel 4
    ax = axes[3]
    axr = ax.twinx()
    a1, = ax.plot(T_AIR, AIR_TEMP, color='#e00000', lw=1.1, ls=dash, label='Air temp')
    a2, = axr.plot(T_SST, SST, color='#00f0ff', lw=1.5, label='SST')
    for a in (ax, axr):
        setup_y(a, (-5.8, 15.8), [-5, 0, 5, 10, 15], list(np.arange(-5, 15.1, 2.5)))
    set_label(ax, 'Air temperature (°C)', -0.065, 15.5)
    set_label(axr, 'Sea surface\ntemperature (°C)', 1.068, 15.5, rotation=90,
              linespacing=1.15)
    decorate(axr)
    add_legend(axr, [a1, a2], (0.354, 0.87), 2, 0.93)

    # ---- panel 5
    ax = axes[4]
    axr = ax.twinx()
    w1, = ax.plot(T_WS, WIND_SPEED, color='#7850ff', lw=1.1, ls=dash, label='Wind speed')
    w2, = axr.plot(T_RH, REL_HUM, color='#ec7a2c', lw=1.3, label='Relative humidity')
    setup_y(ax, (-0.58, 16.64), [0, 5, 10, 15], list(np.arange(0, 15.1, 2.5)))
    setup_y(axr, (58.5, 101.6), [60, 70, 80, 90, 100], list(range(60, 101, 5)))
    set_label(ax, 'Wind speed (m s$^{-1}$)', -0.069, 15.2)
    set_label(axr, 'Relative humidity (%)', 1.074, 16, rotation=90)
    decorate(axr)
    add_legend(axr, [w1, w2], (0.272, 0.126), 2, 3.3)

    # ---- panel 6
    ax = axes[5]
    axr = ax.twinx()
    ice_t = regular_times(ICE_START, ICE_STEP, len(SEA_ICE))
    ice_all_t = np.concatenate([ICE_PRE_T, ice_t, ICE_POST_T])
    ice_all = np.concatenate([ICE_PRE, SEA_ICE, ICE_POST])
    s1, = ax.plot(ice_all_t, ice_all, color='#3fb0ff', lw=1.0, label='Sea ice cover')
    s2, = axr.plot(T_LAT, LATITUDE, color='#ff0000', lw=1.3, ls=dash, label='Latitude')
    setup_y(ax, (-4.2, 104.3), list(range(0, 101, 20)), list(range(0, 101, 10)))
    setup_y(axr, (48.75, 81.3), list(range(50, 81, 5)), list(np.arange(50, 80.1, 2.5)))
    set_label(ax, 'Sea ice cover (%)', -0.065, 15)
    set_label(axr, 'Latitude', 1.073, 16, rotation=90)
    decorate(axr)
    add_legend(axr, [s2, s1], (0.0185, 0.192), 1, 1.0)

    fig.text(632 / FIG_W, 1 - 1555 / FIG_H, 'Day of year', ha='center', va='center', fontsize=15)

    # outer frame (left and top edges are visible in the original)
    fx, fy = 5 / FIG_W, 1 - 7 / FIG_H
    fig.add_artist(Line2D([fx, fx], [0, fy], transform=fig.transFigure, color='black', lw=1.6))
    fig.add_artist(Line2D([fx, 1], [fy, fy], transform=fig.transFigure, color='black', lw=1.6))

    fig.savefig('out.png', dpi=100)
    plt.close(fig)


if __name__ == '__main__':
    main()
